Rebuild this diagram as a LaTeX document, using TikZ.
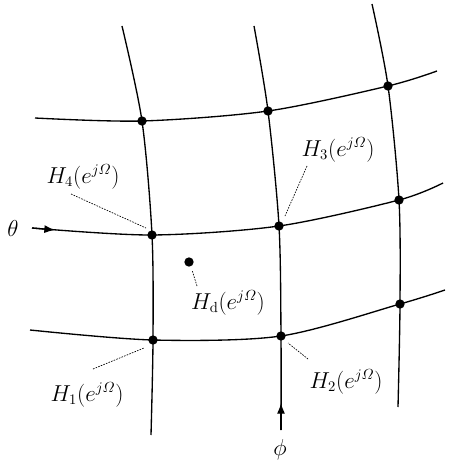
\documentclass[tikz,border=0pt]{standalone}
\usepackage{amsmath}
\usetikzlibrary{arrows.meta}

\begin{document}
\begin{tikzpicture}[
  x=0.75pt, y=-0.75pt,
  dot/.style={circle, fill, inner sep=0pt, minimum size=7pt},
  gridline/.style={line width=1pt},
  lead/.style={line width=0.5pt, dash pattern=on 1.2pt off 0.9pt},
  arr/.style={-{Latex[length=8pt, width=6pt]}, line width=1pt},
  lbl/.style={font=\fontsize{16}{19}\selectfont, inner sep=1pt}
]
\useasboundingbox (0,0) rectangle (452,460);

% grid points (row, column)
\node[dot] (p11) at (153,340) {};
\node[dot] (p12) at (281,336) {};
\node[dot] (p13) at (400,304) {};
\node[dot] (p21) at (152,235) {};
\node[dot] (p22) at (279,226) {};
\node[dot] (p23) at (399,200) {};
\node[dot] (p31) at (142,121) {};
\node[dot] (p32) at (268,111) {};
\node[dot] (p33) at (388,86) {};
\node[dot] (pd) at (189,262) {};

% free ends of the lines
\coordinate (r1s) at (30,330);   \coordinate (r1e) at (445,290);
\coordinate (r2s) at (32,228);   \coordinate (r2e) at (443,183);
\coordinate (r3s) at (35,118);   \coordinate (r3e) at (437,71);
\coordinate (c1s) at (151,435);  \coordinate (c1e) at (122,26);
\coordinate (c2s) at (281,430);  \coordinate (c2e) at (254,26);
\coordinate (c3s) at (398,407);  \coordinate (c3e) at (372,4);
\coordinate (r2arr) at (55,230);
\coordinate (c2arr) at (281,403);

\draw[gridline] plot[smooth, tension=0.5] coordinates {(r1s) (p11.center) (p12.center) (p13.center) (r1e)};
\draw[gridline] plot[smooth, tension=0.5] coordinates {(r2s) (p21.center) (p22.center) (p23.center) (r2e)};
\draw[gridline] plot[smooth, tension=0.5] coordinates {(r3s) (p31.center) (p32.center) (p33.center) (r3e)};
\draw[gridline] plot[smooth, tension=0.5] coordinates {(c1s) (p11.center) (p21.center) (p31.center) (c1e)};
\draw[gridline] plot[smooth, tension=0.5] coordinates {(c2s) (p12.center) (p22.center) (p32.center) (c2e)};
\draw[gridline] plot[smooth, tension=0.5] coordinates {(c3s) (p13.center) (p23.center) (p33.center) (c3e)};

\draw[arr] (r2s) -- (r2arr);
\draw[arr] (c2s) -- (c2arr);

% labels
\node[lbl] (theta) at (13,228) {$\theta$};
\node[lbl] (phi) at (280,450) {$\phi$};
\node[lbl] (h1) at (87,395) {$H_1(e^{j\varOmega})$};
\node[lbl] (h2) at (346,382) {$H_2(e^{j\varOmega})$};
\node[lbl] (h3) at (338,150) {$H_3(e^{j\varOmega})$};
\node[lbl] (h4) at (83,177) {$H_4(e^{j\varOmega})$};
\node[lbl] (hd) at (228,303) {$H_{\mathrm{d}}(e^{j\varOmega})$};

% leaders
\coordinate (l1a) at (93,369);   \coordinate (l1b) at (144,348);
\coordinate (l2a) at (308,359);  \coordinate (l2b) at (288,343);
\coordinate (l3a) at (307,166);  \coordinate (l3b) at (285,216);
\coordinate (l4a) at (71,194);   \coordinate (l4b) at (146,228);
\coordinate (lda) at (197,286);  \coordinate (ldb) at (192,270);
\draw[lead] (l1a) -- (l1b);
\draw[lead] (l2a) -- (l2b);
\draw[lead] (l3a) -- (l3b);
\draw[lead] (l4a) -- (l4b);
\draw[lead] (lda) -- (ldb);
\end{tikzpicture}
\end{document}
